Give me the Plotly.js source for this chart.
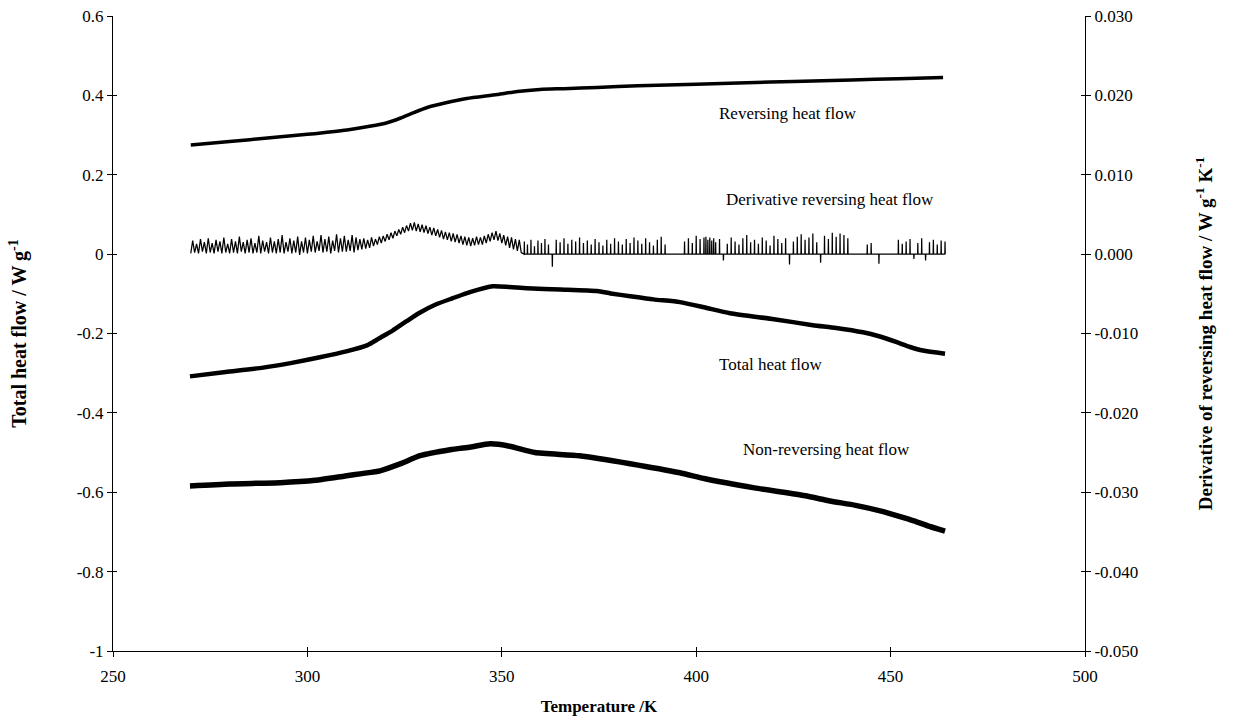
<!DOCTYPE html>
<html>
<head>
<meta charset="utf-8">
<script src="https://cdn.plot.ly/plotly-3.0.1.min.js"></script>
<style>html,body{margin:0;padding:0;background:#fff;}#chart{width:1233px;height:723px;}</style>
</head>
<body>
<div id="chart"></div>
<script>
// ---- Data ----
// Reversing heat flow (left axis, W g-1)
var revT = [270, 280, 290.4, 300, 310.2, 316, 320.5, 324, 327.2, 331, 335.9, 341, 348.8, 354, 359.8, 366, 374.5, 385, 400, 413, 425, 440, 452, 463.5];
var revV = [0.275, 0.284, 0.293, 0.302, 0.313, 0.322, 0.331, 0.343, 0.356, 0.370, 0.382, 0.392, 0.402, 0.410, 0.415, 0.417, 0.420, 0.424, 0.428, 0.432, 0.435, 0.439, 0.442, 0.445];

// Total heat flow (left axis)
var totT = [269.8, 279, 288.6, 296, 303.2, 310, 315.3, 318.5, 322, 325.5, 329, 333, 337.4, 342, 347.7, 352, 356.5, 365, 374.5, 378, 383, 389, 395.8, 402, 408.7, 420, 430, 436, 442.9, 447, 451.6, 455, 458.3, 464];
var totV = [-0.308, -0.297, -0.286, -0.274, -0.260, -0.245, -0.230, -0.212, -0.192, -0.169, -0.147, -0.127, -0.111, -0.095, -0.081, -0.083, -0.086, -0.089, -0.093, -0.099, -0.106, -0.114, -0.121, -0.134, -0.149, -0.164, -0.179, -0.186, -0.197, -0.207, -0.222, -0.234, -0.243, -0.251];

// Non-reversing heat flow (left axis)
var nrevT = [269.8, 280, 293, 302, 309.7, 314, 318.7, 324, 329, 336.7, 342, 347, 352, 358.5, 370, 383, 395.8, 402.3, 415, 428, 434.4, 441, 447.3, 452, 456, 460, 464];
var nrevV = [-0.584, -0.579, -0.576, -0.570, -0.559, -0.553, -0.546, -0.528, -0.508, -0.493, -0.486, -0.478, -0.484, -0.500, -0.508, -0.528, -0.551, -0.566, -0.589, -0.609, -0.622, -0.633, -0.647, -0.660, -0.672, -0.686, -0.698];

// Derivative reversing heat flow (right axis, W g-1 K-1): dense noisy band
var derivT = [270,270.5,271,271.5,272,272.5,273,273.5,274,274.5,275,275.5,276,276.5,277,277.5,278,278.5,279,279.5,
  280,280.5,281,281.5,282,282.5,283,283.5,284,284.5,285,285.5,286,286.5,287,287.5,288,288.5,289,289.5,
  290,290.5,291,291.5,292,292.5,293,293.5,294,294.5,295,295.5,296,296.5,297,297.5,298,298.5,299,299.5,
  300,300.5,301,301.5,302,302.5,303,303.5,304,304.5,305,305.5,306,306.5,307,307.5,308,308.5,309,309.5,
  310,310.5,311,311.5,312,312.5,313,313.5,314,314.5,315,315.5,316,316.5,317,317.5,318,318.5,319,319.5,
  320,320.5,321,321.5,322,322.5,323,323.5,324,324.5,325,325.5,326,326.5,327,327.5,328,328.5,329,329.5,
  330,330.5,331,331.5,332,332.5,333,333.5,334,334.5,335,335.5,336,336.5,337,337.5,338,338.5,339,339.5,
  340,340.5,341,341.5,342,342.5,343,343.5,344,344.5,345,345.5,346,346.5,347,347.5,348,348.5,349,349.5,
  350,350.5,351,351.5,352,352.5,353,353.5,354,354.5,355];
var derivV = [0.0001,0.0017,0.0002,0.0013,0.0001,0.0019,0.0003,0.0015,0.0001,0.0020,0.0002,0.0014,0.0001,0.0018,0.0003,0.0016,0.0001,0.0021,0.0002,0.0013,
  0.0001,0.0019,0.0002,0.0016,0.0001,0.0022,0.0003,0.0015,0.0001,0.0018,0.0002,0.0020,0.0001,0.0014,0.0002,0.0023,0.0001,0.0017,0.0003,0.0015,
  0.0001,0.0021,0.0002,0.0016,0.0001,0.0019,0.0002,0.0024,0.0001,0.0015,0.0003,0.0020,0.0001,0.0017,0.0002,0.0022,-0.0001,0.0016,0.0002,0.0021,
  0.0001,0.0018,0.0003,0.0023,0.0002,0.0016,0.0004,0.0024,0.0002,0.0019,0.0003,0.0022,0.0001,0.0017,0.0004,0.0025,0.0002,0.0020,0.0003,0.0023,
  0.0003,0.0018,0.0004,0.0024,0.0002,0.0021,0.0005,0.0019,0.0006,0.0020,0.0007,0.0018,0.0008,0.0021,0.0010,0.0019,0.0012,0.0022,0.0014,0.0023,
  0.0016,0.0025,0.0018,0.0027,0.0020,0.0029,0.0023,0.0031,0.0025,0.0034,0.0027,0.0036,0.0029,0.0039,0.0030,0.0040,0.0029,0.0038,0.0028,0.0037,
  0.0027,0.0036,0.0026,0.0034,0.0024,0.0033,0.0023,0.0031,0.0021,0.0030,0.0019,0.0028,0.0018,0.0027,0.0016,0.0026,0.0015,0.0025,0.0014,0.0023,
  0.0012,0.0022,0.0011,0.0021,0.0010,0.0020,0.0011,0.0022,0.0012,0.0021,0.0012,0.0023,0.0014,0.0025,0.0016,0.0027,0.0018,0.0029,0.0017,0.0026,
  0.0014,0.0024,0.0011,0.0022,0.0008,0.0021,0.0006,0.0019,0.0004,0.0018,0.0002];
// Derivative: sparse spikes above 355 K (position K, height W g-1 K-1)
var spikeT = [355.8,356.6,357.5,358.4,359.3,360.2,361.1,362,363,364,365,366,367,368,369,370,371,372,373,374,375,
  376,377,378,379,380,381,382,383,384,385,386,387,388,389,390,391,392,397,398,399,400,401,402,402.5,403,403.5,404,404.5,405,406,407,408,409,410,411,412,413,414,415,416,
  417,418,419,420,421,422,423,424,425,426,427,428,429,430,431,432,433,434,435,436,437,438,439,444,445,447,452,453,454,455,456,457,458,459,460,461,462,463,464];
var spikeH = [0.0016,0.0012,0.0018,0.0010,0.0017,0.0014,0.0019,0.0012,-0.0016,0.0018,0.0015,0.0020,0.0013,0.0018,0.0016,0.0021,0.0014,0.0017,0.0012,0.0019,0.0015,
  0.0011,0.0018,0.0013,0.0020,0.0016,0.0012,0.0019,0.0014,0.0021,0.0017,0.0013,0.0020,0.0015,0.0011,0.0018,0.0022,0.0012,0.0016,0.0020,0.0014,0.0023,0.0019,0.0021,0.0022,0.0018,0.0021,0.0017,0.0020,0.0015,0.0019,-0.0008,0.0013,0.0021,0.0016,0.0012,0.0020,0.0024,0.0015,0.0018,0.0013,
  0.0021,0.0017,0.0011,0.0023,0.0019,0.0014,0.0020,-0.0013,0.0016,0.0022,0.0025,0.0018,0.0021,0.0026,0.0015,-0.0011,0.0023,0.0019,0.0027,0.0022,0.0026,0.0024,0.0020,0.0012,0.0014,-0.0012,0.0018,0.0013,0.0016,0.0019,-0.0006,0.0014,0.0020,-0.0008,0.0015,0.0018,0.0012,0.0017,0.0016];

// Tick values / labels
var xTicks = [250, 300, 350, 400, 450, 500];
var yTicks = [-1, -0.8, -0.6, -0.4, -0.2, 0, 0.2, 0.4, 0.6];
var yLabels = ['-1', '-0.8', '-0.6', '-0.4', '-0.2', '0', '0.2', '0.4', '0.6'];
var y2Ticks = [-0.05, -0.04, -0.03, -0.02, -0.01, 0, 0.01, 0.02, 0.03];
var y2Labels = ['-0.050', '-0.040', '-0.030', '-0.020', '-0.010', '0.000', '0.010', '0.020', '0.030'];

// Curve labels
var labelText = ['Reversing heat flow', 'Derivative reversing heat flow', 'Total heat flow', 'Non-reversing heat flow'];
var labelT = [423.5, 434.4, 419, 433.4];
var labelV = [0.354, 0.137, -0.278, -0.493];

// ---- Build derivative trace from dense band + spikes ----
var dX = derivT.slice(), dY = derivV.slice();
for (var i = 0; i < spikeT.length; i++) {
  dX.push(spikeT[i] - 0.05, spikeT[i], spikeT[i] + 0.05);
  dY.push(0, spikeH[i], 0);
}

var FONT = 'Liberation Serif, Times New Roman, serif';
var traces = [
  {x: revT, y: revV, type: 'scatter', mode: 'lines', line: {color: '#000', width: 3.5, shape: 'spline', smoothing: 0.6}, xaxis: 'x', yaxis: 'y', name: 'Reversing heat flow'},
  {x: totT, y: totV, type: 'scatter', mode: 'lines', line: {color: '#000', width: 4.5, shape: 'spline', smoothing: 0.6}, xaxis: 'x', yaxis: 'y', name: 'Total heat flow'},
  {x: nrevT, y: nrevV, type: 'scatter', mode: 'lines', line: {color: '#000', width: 5.5, shape: 'spline', smoothing: 0.5}, xaxis: 'x', yaxis: 'y', name: 'Non-reversing heat flow'},
  {x: dX, y: dY, type: 'scatter', mode: 'lines', line: {color: '#000', width: 1.25}, xaxis: 'x', yaxis: 'y2', name: 'Derivative reversing heat flow'},
  {x: [null], y: [null], type: 'scatter', mode: 'lines', xaxis: 'x2', yaxis: 'y3', hoverinfo: 'skip', showlegend: false},
  {x: [null], y: [null], type: 'scatter', mode: 'lines', xaxis: 'x2', yaxis: 'y4', hoverinfo: 'skip', showlegend: false}
];

var annotations = [];
for (var k = 0; k < labelText.length; k++) {
  annotations.push({x: labelT[k], y: labelV[k], xref: 'x', yref: 'y', text: labelText[k], showarrow: false,
    font: {family: FONT, size: 17, color: '#000'}, xanchor: 'center', yanchor: 'middle'});
}

var layout = {
  width: 1233, height: 723,
  margin: {l: 113, r: 148, t: 16, b: 72},
  paper_bgcolor: '#fff', plot_bgcolor: '#fff',
  showlegend: false,
  font: {family: FONT, size: 17, color: '#000'},
  xaxis: {range: [250, 500], tickvals: xTicks, ticktext: xTicks.map(String), ticks: 'outside', ticklen: 5, tickcolor: '#000',
    showline: true, linecolor: '#000', linewidth: 1, showgrid: false, zeroline: false, mirror: false,
    tickfont: {family: FONT, size: 17}, anchor: 'y', ticklabelstandoff: 5,
    title: {text: '<b>Temperature /K</b>', font: {family: FONT, size: 17}, standoff: 14}},
  yaxis: {range: [-1, 0.6], tickvals: yTicks, ticktext: yLabels, ticks: 'outside', ticklen: 5, tickcolor: '#000',
    showline: true, linecolor: '#000', linewidth: 1, showgrid: false, zeroline: false,
    tickfont: {family: FONT, size: 17}, anchor: 'x',
    title: {text: '<b>Total heat flow / W g<sup>-1</sup></b>', font: {family: FONT, size: 20}, standoff: 44}},
  yaxis2: {range: [-0.05, 0.03], tickvals: y2Ticks, ticktext: y2Labels, ticks: 'outside', ticklen: 5, tickcolor: '#000',
    showline: true, linecolor: '#000', linewidth: 1, showgrid: false, zeroline: false,
    overlaying: 'y', side: 'right', anchor: 'x',
    tickfont: {family: FONT, size: 17},
    title: {text: '<b>Derivative of reversing heat flow / W g<sup>-1</sup> K<sup>-1</sup></b>', font: {family: FONT, size: 19}, standoff: 61}},
  xaxis2: {range: [250, 500], tickvals: xTicks, ticks: 'inside', ticklen: 4, tickcolor: '#000', showticklabels: false,
    showline: false, showgrid: false, zeroline: false, overlaying: 'x', anchor: 'y3'},
  yaxis3: {range: [-1, 0.6], tickvals: yTicks, ticks: 'inside', ticklen: 4, tickcolor: '#000', showticklabels: false,
    showline: false, showgrid: false, zeroline: false, overlaying: 'y', side: 'left', anchor: 'x2'},
  yaxis4: {range: [-0.05, 0.03], tickvals: y2Ticks, ticks: 'inside', ticklen: 4, tickcolor: '#000', showticklabels: false,
    showline: false, showgrid: false, zeroline: false, overlaying: 'y', side: 'right', anchor: 'x2'},
  annotations: annotations
};

Plotly.newPlot('chart', traces, layout, {displayModeBar: false, staticPlot: true});
</script>
</body>
</html>
